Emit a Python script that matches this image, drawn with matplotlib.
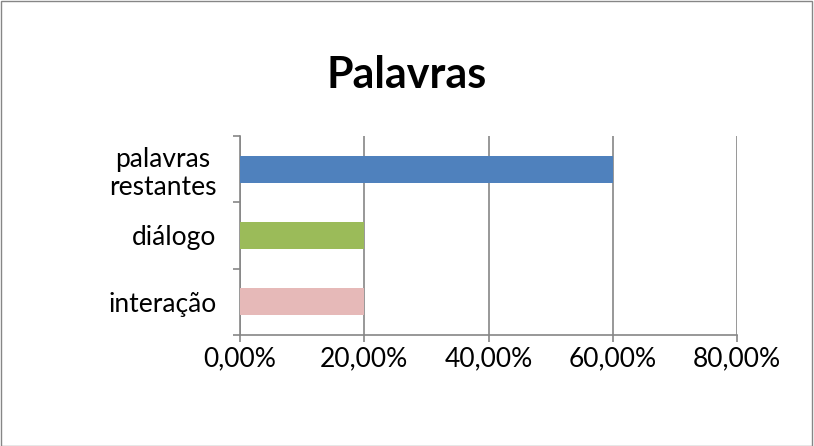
import matplotlib
matplotlib.use('Agg')
import matplotlib.pyplot as plt
from matplotlib.patches import Rectangle
from matplotlib.ticker import FixedLocator, FuncFormatter

categories = ['interação', 'diálogo', 'palavras\nrestantes']
values = [0.20, 0.20, 0.60]
colors = ['#E6B9B8', '#9BBB59', '#4F81BD']
x_ticks = [0.0, 0.2, 0.4, 0.6, 0.8]

grey = '#868686'
plt.rcParams['font.family'] = ['Lato', 'DejaVu Sans']


def main():
    fig = plt.figure(figsize=(8.14, 4.46), dpi=100)
    ax = fig.add_axes([240 / 814, 1 - 335 / 446, 497 / 814, 199 / 446])

    ypos = list(range(len(categories)))
    ax.barh(ypos, values, height=0.41, color=colors, zorder=3)

    ax.set_xlim(0, 0.8)
    ax.set_ylim(-0.5, len(categories) - 0.5)

    ax.set_xticks(x_ticks)
    ax.xaxis.set_major_formatter(FuncFormatter(lambda v, p: f'{v * 100:.2f}%'.replace('.', ',')))
    ax.grid(axis='x', color=grey, linewidth=1.2, zorder=0)

    ax.set_yticks(ypos)
    ax.set_yticklabels(categories, multialignment='center', linespacing=1.15)
    ax.yaxis.set_minor_locator(FixedLocator([-0.5, 0.5, 1.5, 2.5]))

    ax.tick_params(axis='y', which='major', length=0, pad=17, labelsize=19)
    ax.tick_params(axis='y', which='minor', length=5, width=1.2, color=grey)
    ax.tick_params(axis='x', which='major', length=5, width=1.2, color=grey, pad=3, labelsize=19)

    for side in ['top', 'right']:
        ax.spines[side].set_visible(False)
    for side in ['left', 'bottom']:
        ax.spines[side].set_color(grey)
        ax.spines[side].set_linewidth(1.2)

    fig.text(0.5, 1 - 75 / 446, 'Palavras', ha='center', va='center',
             fontsize=31, fontweight='bold')

    fig.patches.append(Rectangle((0.001, 0.001), 0.997, 0.997, transform=fig.transFigure,
                                 fill=False, edgecolor=grey, linewidth=1.0))

    fig.savefig('out.png', dpi=100)


if __name__ == '__main__':
    main()
